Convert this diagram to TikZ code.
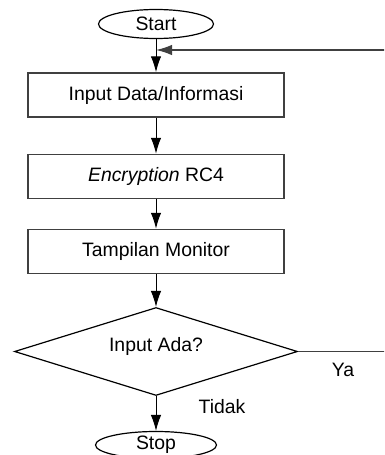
\documentclass[tikz,border=0pt]{standalone}
\usepackage{fontspec}
\setmainfont{Liberation Sans}
\usetikzlibrary{shapes.geometric,arrows.meta}
\tikzset{
  >={Latex[length=16pt,width=10.5pt]},
}
\tikzstyle{every node}=[font=\fontsize{19.4}{23}\selectfont]
\tikzstyle{terminal}=[draw,ellipse,line width=1.2pt,inner sep=0pt]
\tikzstyle{process}=[draw=black!75,line width=1.5pt,minimum width=256pt,minimum height=44pt,inner sep=0pt]
\tikzstyle{decision}=[draw,diamond,aspect=3.2,line width=1.2pt,minimum width=283pt,minimum height=88pt,inner sep=0pt,text height=14pt,text depth=14pt]
\tikzstyle{flow}=[line width=1pt,->]

\begin{document}
\begin{tikzpicture}[x=1pt,y=-1pt]
    \useasboundingbox (0,0) rectangle (384,455);
    \clip (0,0) rectangle (384,455);

    \node[terminal,minimum width=115pt,minimum height=29pt] (start) at (156,24) {Start};
    \node[process] (input) at (156,95) {Input Data/Informasi};
    \node[process] (enc) at (156,176.5) {\textit{Encryption} RC4};
    \node[process] (monitor) at (156,251.5) {Tampilan Monitor};
    \node[decision] (dec) at (156,351.5) {Input Ada?};
    \node[terminal,minimum width=121pt,minimum height=27pt] (stop) at (156,445) {Stop};
    \coordinate (join) at (156,50);

    \draw[flow] (start) -- (input);
    \draw[flow] (input) -- (enc);
    \draw[flow] (enc) -- (monitor);
    \draw[flow] (monitor) -- (dec);
    \draw[flow] (dec) -- (stop);
    \draw[flow,draw=black!75,line width=1.4pt] (dec.east) -- (400,351.5) |- (join);
    \node (ya) at (343,370) {Ya};
    \node (tidak) at (222,407) {Tidak};
\end{tikzpicture}
\end{document}
